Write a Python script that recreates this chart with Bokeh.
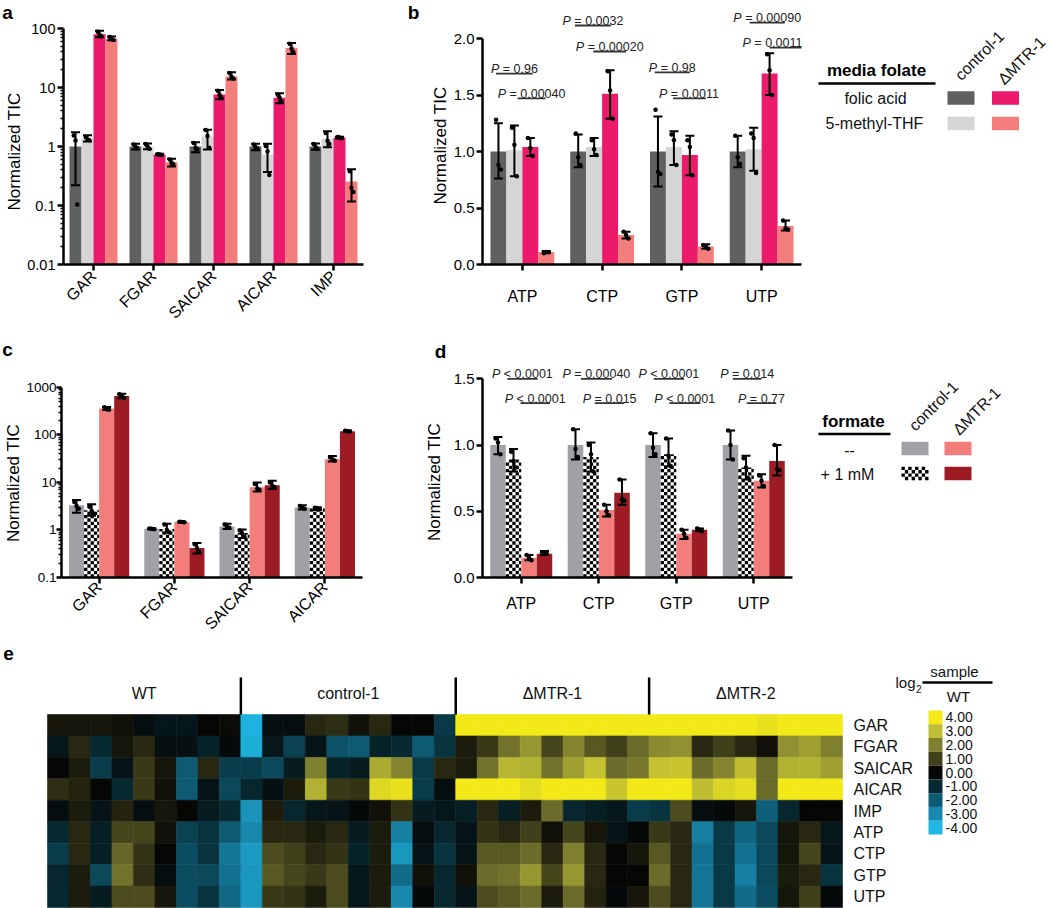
import math
from bokeh.plotting import figure
from bokeh.models import (FactorRange, Range1d, ColumnDataSource, FixedTicker,
                          NumeralTickFormatter, CustomJSTickFormatter, LinearColorMapper)
from bokeh.transform import dodge, transform
from bokeh.layouts import row, column
from bokeh.core.properties import value
from bokeh.embed import file_html
from bokeh.resources import INLINE

FONT = "Liberation Sans"

# ======================= DATA =======================
# ---- panel a (log scale) ----
A_CATS = ["GAR", "FGAR", "SAICAR", "AICAR", "IMP"]
A_CF_MEAN = [1.0, 1.0, 1.0, 1.0, 1.0]
A_CF_LO = [0.22, 0.89, 0.80, 0.86, 0.88]
A_CF_HI = [1.75, 1.11, 1.18, 1.11, 1.12]
A_CF_PTS = [[1.54, 1.26, 0.104], [1.08, 0.98, 0.94], [1.15, 0.95, 0.90], [1.08, 0.97, 0.93], [1.10, 0.98, 0.92]]
A_CM_MEAN = [1.35, 1.0, 1.48, 0.73, 1.35]
A_CM_LO = [1.22, 0.90, 0.89, 0.37, 0.97]
A_CM_HI = [1.55, 1.12, 1.92, 1.11, 1.82]
A_CM_PTS = [[1.45, 1.32, 1.28], [1.10, 1.00, 0.92], [1.90, 1.50, 0.95], [1.02, 0.82, 0.33], [1.70, 1.25, 1.10]]
A_MF_MEAN = [80, 0.73, 7.6, 6.7, 1.42]
A_MF_LO = [71, 0.71, 6.3, 5.4, 1.37]
A_MF_HI = [92, 0.75, 9.1, 8.0, 1.46]
A_MF_PTS = [[88, 78, 74], [0.74, 0.73, 0.72], [8.8, 7.5, 6.8], [7.5, 6.8, 5.9], [1.45, 1.42, 1.38]]
A_MM_MEAN = [67, 0.54, 15.4, 47, 0.255]
A_MM_LO = [63, 0.46, 13.6, 37, 0.117]
A_MM_HI = [73, 0.62, 18.1, 57, 0.41]
A_MM_PTS = [[72, 66, 64], [0.60, 0.53, 0.50], [17.5, 15.0, 14.2], [55, 46, 40], [0.38, 0.20, 0.17]]

# ---- panel b ----
B_CATS = ["ATP", "CTP", "GTP", "UTP"]
B_CF_MEAN = [1.0, 1.0, 1.0, 1.0]
B_CF_LO = [0.76, 0.86, 0.69, 0.86]
B_CF_HI = [1.25, 1.15, 1.31, 1.14]
B_CF_PTS = [[1.28, 0.88, 0.84], [1.16, 0.95, 0.88], [1.37, 0.82, 0.80], [1.14, 0.95, 0.89]]
B_CM_MEAN = [1.01, 1.04, 1.04, 1.02]
B_CM_LO = [0.78, 0.96, 0.88, 0.83]
B_CM_HI = [1.23, 1.12, 1.18, 1.21]
B_CM_PTS = [[1.21, 1.06, 0.78], [1.10, 1.02, 0.97], [1.15, 1.10, 0.88], [1.16, 1.12, 0.81]]
B_MF_MEAN = [1.04, 1.51, 0.97, 1.69]
B_MF_LO = [0.96, 1.29, 0.79, 1.50]
B_MF_HI = [1.12, 1.72, 1.14, 1.87]
B_MF_PTS = [[1.12, 1.03, 0.96], [1.71, 1.54, 1.29], [1.10, 1.04, 0.79], [1.86, 1.72, 1.50]]
B_MM_MEAN = [0.11, 0.26, 0.16, 0.34]
B_MM_LO = [0.10, 0.23, 0.14, 0.30]
B_MM_HI = [0.12, 0.29, 0.18, 0.39]
B_MM_PTS = [[0.10, 0.11, 0.11], [0.29, 0.26, 0.23], [0.17, 0.16, 0.14], [0.39, 0.32, 0.31]]
B_P1_TXT = ["= 0.96", "= 0.0032", "= 0.98", "= 0.00090"]
B_P1_Y = [1.69, 2.115, 1.70, 2.14]
B_P2_TXT = ["= 0.00040", "= 0.00020", "= 0.0011", "= 0.0011"]
B_P2_Y = [1.47, 1.885, 1.47, 1.92]

# ---- panel c (log scale) ----
C_CATS = ["GAR", "FGAR", "SAICAR", "AICAR"]
C_CN_MEAN = [3.3, 1.06, 1.19, 2.97]
C_CN_LO = [2.3, 1.04, 1.05, 2.7]
C_CN_HI = [4.3, 1.09, 1.35, 3.3]
C_CN_PTS = [[3.9, 3.2, 2.8], [1.08, 1.06, 1.04], [1.30, 1.15, 1.12], [3.2, 2.9, 2.8]]
C_CP_MEAN = [2.6, 1.05, 0.86, 2.85]
C_CP_LO = [2.0, 0.88, 0.68, 2.65]
C_CP_HI = [3.5, 1.35, 1.03, 3.0]
C_CP_PTS = [[3.1, 2.5, 2.2], [1.30, 1.00, 0.90], [0.98, 0.85, 0.72], [2.95, 2.85, 2.75]]
C_MN_MEAN = [360, 1.47, 7.9, 31]
C_MN_LO = [335, 1.44, 6.5, 27.5]
C_MN_HI = [390, 1.50, 10.0, 36]
C_MN_PTS = [[385, 350, 340], [1.49, 1.47, 1.45], [9.3, 7.5, 7.0], [34, 30, 29]]
C_MP_MEAN = [660, 0.42, 8.8, 120]
C_MP_LO = [590, 0.32, 7.3, 117]
C_MP_HI = [740, 0.53, 10.9, 124]
C_MP_PTS = [[720, 650, 610], [0.50, 0.42, 0.35], [10.0, 8.5, 8.0], [123, 120, 118]]

# ---- panel d ----
D_CATS = ["ATP", "CTP", "GTP", "UTP"]
D_CN_MEAN = [1.0, 1.0, 1.0, 1.0]
D_CN_LO = [0.93, 0.89, 0.91, 0.89]
D_CN_HI = [1.06, 1.12, 1.09, 1.11]
D_CN_PTS = [[1.05, 1.02, 0.93], [1.12, 0.97, 0.91], [1.09, 0.98, 0.93], [1.11, 1.00, 0.89]]
D_CP_MEAN = [0.89, 0.91, 0.93, 0.83]
D_CP_LO = [0.80, 0.80, 0.84, 0.74]
D_CP_HI = [0.97, 1.02, 1.05, 0.92]
D_CP_PTS = [[0.95, 0.88, 0.83], [1.00, 0.93, 0.80], [1.05, 0.92, 0.84], [0.90, 0.83, 0.75]]
D_MN_MEAN = [0.15, 0.51, 0.33, 0.73]
D_MN_LO = [0.13, 0.46, 0.29, 0.68]
D_MN_HI = [0.17, 0.55, 0.36, 0.78]
D_MN_PTS = [[0.17, 0.15, 0.13], [0.55, 0.50, 0.47], [0.36, 0.33, 0.30], [0.77, 0.73, 0.69]]
D_MP_MEAN = [0.18, 0.64, 0.36, 0.88]
D_MP_LO = [0.17, 0.55, 0.35, 0.77]
D_MP_HI = [0.20, 0.74, 0.37, 1.00]
D_MP_PTS = [[0.19, 0.18, 0.18], [0.74, 0.59, 0.58], [0.37, 0.36, 0.35], [1.00, 0.82, 0.81]]
D_P1_TXT = ["< 0.0001", "= 0.00040", "< 0.0001", "= 0.014"]
D_P1_Y = [1.50, 1.50, 1.50, 1.50]
D_P2_TXT = ["< 0.0001", "= 0.015", "< 0.0001", "= 0.77"]
D_P2_Y = [1.316, 1.316, 1.316, 1.316]

# ---- legends / labels ----
Y_TITLE = "Normalized TIC"
LEG_B_TITLE = "media folate"
LEG_B_ROWS = ["folic acid", "5-methyl-THF"]
LEG_D_TITLE = "formate"
LEG_D_ROWS = ["--", "+ 1 mM"]
LEG_COLS = ["control-1", "ΔMTR-1"]

# ---- panel e heatmap (log2 sample / WT) ----
HM_ROWS = ["GAR", "FGAR", "SAICAR", "AICAR", "IMP", "ATP", "CTP", "GTP", "UTP"]
HM_GROUPS = ["WT", "control-1", "ΔMTR-1", "ΔMTR-2"]
HM_GROUP_SIZES = [9, 10, 9, 9]
HM_GAR = [0.3, 0.3, 0.3, 0.2, -0.2, -0.5, -0.5, 0.0, 0.1,
          -3.9, -0.3, -0.2, 0.6, 0.7, 0.2, 0.6, 0.0, 0.0, -1.3,
          4.5, 4.5, 4.5, 4.5, 4.5, 4.5, 4.5, 4.5, 4.5,
          4.5, 4.5, 4.5, 4.5, 4.5, 3.8, 4.5, 4.5, 4.5]
HM_FGAR = [-0.5, 0.6, -1.0, 0.3, 0.6, -0.3, -0.3, -0.8, -0.1,
           -3.8, -0.5, -1.5, -0.4, -1.8, -2.0, -0.8, -1.0, -2.0, -1.2,
           0.4, 0.9, 1.8, 2.4, 1.1, 2.1, 1.4, 1.0, 1.7,
           2.2, 2.3, 0.6, 1.0, 0.6, 0.2, 2.3, 2.5, 2.0]
HM_SAICAR = [0.0, 0.4, -1.4, -0.4, 0.9, 0.3, -2.0, 0.6, -1.4,
             -1.4, -1.6, -0.6, 2.0, -0.8, -0.6, 2.7, 2.1, -1.3, 0.6,
             0.4, 1.8, 2.9, 2.8, 1.8, 2.5, 3.1, 1.7, 1.9,
             3.1, 3.2, 1.7, 2.1, 3.0, 1.7, 2.8, 2.8, 2.5]
HM_AICAR = [0.7, 0.5, 0.0, -1.0, 0.9, 0.2, -2.0, -0.4, -1.6,
            -0.9, -0.3, 0.4, 2.8, 0.9, 0.8, 3.6, 3.8, -1.4, -0.2,
            4.3, 4.3, 4.3, 3.7, 4.3, 4.0, 4.0, 3.2, 4.3,
            4.3, 4.3, 3.0, 3.5, 3.7, 1.7, 4.3, 4.3, 4.3]
HM_IMP = [-0.2, 0.4, -0.4, 0.5, -0.2, 0.3, 0.0, -0.6, -1.0,
          -3.2, 0.4, -0.9, -0.5, -0.4, -0.1, 0.2, 0.8, -0.6, -0.5,
          -0.7, 0.6, -0.7, 0.4, 1.7, -0.9, -0.7, -0.5, -1.4,
          -1.2, 1.2, -0.2, -0.1, 0.3, -2.1, -0.9, 0.0, 0.0]
HM_ATP = [-1.0, 0.6, -0.7, 1.1, 1.1, 0.2, -1.5, -1.2, -2.0,
          -3.0, 0.6, 0.6, 0.4, 0.6, -0.6, 0.4, -2.8, -0.2, -0.9,
          -0.4, 0.8, 0.6, 1.0, 0.2, 1.1, 0.3, -0.4, -0.1,
          0.9, 0.6, -2.8, -1.3, -2.2, -1.6, 0.3, 0.6, -0.5]
HM_CTP = [-1.4, 0.6, -0.7, 1.6, 0.8, 0.0, -1.7, -1.2, -2.6,
          -3.4, 1.2, 1.0, 0.6, 0.8, -0.8, 0.4, -3.3, -0.4, -1.2,
          -0.4, 1.4, 1.4, 1.7, 0.6, 2.0, 0.6, 0.0, 0.3,
          1.4, 0.6, -2.5, -1.3, -2.5, -1.6, 0.3, 1.1, -0.4]
HM_GTP = [-0.9, 0.4, -1.6, 1.8, 0.7, -0.2, -1.7, -1.6, -2.5,
          -3.3, 1.4, 1.1, 0.9, 1.2, -0.5, 0.4, -2.4, 0.2, -0.9,
          0.2, 1.7, 1.8, 2.4, 1.1, 2.4, 0.6, 0.0, 0.0,
          1.7, 0.6, -2.6, -1.3, -2.8, -1.6, 0.4, 0.6, -1.2]
HM_UTP = [-1.0, 0.4, -0.6, 1.2, 1.2, 0.3, -1.7, -1.2, -2.3,
          -3.3, 0.9, 0.8, 0.4, 1.2, -0.5, 0.4, -3.0, -0.1, -0.9,
          -0.4, 1.2, 1.4, 1.7, 0.4, 1.7, 0.5, -0.1, 0.3,
          1.2, 0.6, -2.6, -1.3, -2.4, -1.7, 0.3, 1.0, -0.1]
HM_VALUES = [HM_GAR, HM_FGAR, HM_SAICAR, HM_AICAR, HM_IMP, HM_ATP, HM_CTP, HM_GTP, HM_UTP]
CB_TICKS = [4, 3, 2, 1, 0, -1, -2, -3, -4]

# ======================= STYLE =======================
C_DARK, C_LIGHT, C_MAG, C_SAL = "#5F6062", "#D5D5D5", "#EB1A6B", "#F37D7B"
C_GREY, C_DRED = "#A0A0A6", "#9D1C24"
BAR_W = 0.2
OFFS = [-0.3, -0.1, 0.1, 0.3]
JIT = [-0.03, 0.0, 0.03]
CHK = 3.3   # checker square size (px)
P_FS = 12.5
B_P1_X = [(-0.33, 0.13), (-0.34, 0.11), (-0.34, 0.10), (-0.15, 0.29)]
B_P2_X = [(-0.06, 0.29), (-0.11, 0.30), (-0.11, 0.30), (0.10, 0.51)]
B_P2_SHIFT = [0, 0, 0, -13]
D_P1_X = [(-0.18, 0.21), (-0.23, 0.17), (-0.29, 0.10), (-0.27, 0.10)]
D_P2_X = [(-0.01, 0.37), (-0.05, 0.33), (-0.09, 0.31), (-0.09, 0.29)]
W_EM = {" ": 0.278, "=": 0.584, "<": 0.584, ".": 0.278, "P": 0.667, "-": 0.333}

# row geometry (height, top border, bottom border)
R1_H, R1_BT, R1_BB = 330, 1, 66
R2_H, R2_BT, R2_BB = 311, 5, 63
HM_TOP = R1_H + R2_H
HM_H = 908 - HM_TOP


def base_fig(w, h, bl, br, bt, bb, **kw):
    p = figure(width=w, height=h, output_backend="svg", toolbar_location=None, title=None,
               min_border_left=bl, min_border_right=br, min_border_top=bt, min_border_bottom=bb,
               background_fill_color="white", border_fill_color="white", **kw)
    p.outline_line_color = None
    p.grid.visible = False
    return p


def style_axes(p, ytick_size="15px", xlab_size="16px", xstand=8, orient=None, ystand=2, ytick_out=6):
    for ax in p.axis:
        ax.axis_line_width = 2.5
        ax.axis_line_color = "black"
        ax.major_tick_line_width = 2.5
        ax.major_tick_line_color = "black"
        ax.major_tick_in = 0
        ax.minor_tick_in = 0
        ax.minor_tick_out = 3
        ax.minor_tick_line_width = 1.5
        ax.minor_tick_line_color = "black"
        ax.major_label_text_font = FONT
        ax.major_label_text_color = "black"
    p.yaxis.major_tick_out = ytick_out
    p.yaxis.major_label_text_font_size = ytick_size
    p.yaxis.major_label_standoff = ystand
    p.xaxis.major_label_text_font_size = xlab_size
    p.xaxis.major_label_standoff = xstand
    p.xaxis.major_tick_out = 6
    if orient is not None:
        p.xaxis.major_label_orientation = orient


def add_checker(p, cats, off, means, v2px, px2v, cat_px):
    """black squares of a checkerboard fill inside the bars (synthetic categorical x)."""
    L, R, B, T = [], [], [], []
    ncols = int(math.ceil(BAR_W * cat_px / CHK))
    for i, m in enumerate(means):
        c0 = i + 0.5 + off - BAR_W / 2
        nrows = int(math.ceil(v2px(m) / CHK))
        for k in range(nrows):
            b, t = px2v(k * CHK), min(px2v((k + 1) * CHK), m)
            for j in range(ncols):
                if (j + k) % 2:
                    continue
                L.append(c0 + j * CHK / cat_px)
                R.append(min(c0 + (j + 1) * CHK / cat_px, c0 + BAR_W))
                B.append(b)
                T.append(t)
    p.quad(left=L, right=R, bottom=B, top=T, fill_color="black", line_color=None)


def add_bars(p, cats, series, bottom, chk=None):
    for s, off in zip(series, OFFS):
        color, hatch, mean, lo, hi, pts = s
        src = ColumnDataSource(dict(cat=cats, mean=mean, lo=lo, hi=hi,
                                    d0=[v[0] for v in pts], d1=[v[1] for v in pts], d2=[v[2] for v in pts]))
        xd = dodge("cat", off, range=p.x_range)
        p.vbar(x=xd, top="mean", bottom=bottom, width=BAR_W, source=src,
               fill_color=color, line_color=None)
        if hatch and chk is not None:
            add_checker(p, cats, off, mean, *chk)
        p.segment(x0=xd, y0="lo", x1=xd, y1="hi", source=src, line_color="black", line_width=2)
        for fld in ("lo", "hi"):
            p.scatter(x=xd, y=fld, marker="dash", size=9, line_width=2, line_color="black", source=src)
        for j, jit in enumerate(JIT):
            p.scatter(x=dodge("cat", off + jit, range=p.x_range), y="d%d" % j, marker="circle", size=4.5,
                      fill_color="black", line_color=None, source=src)


def tw(s, fs):
    return sum(W_EM.get(ch, 0.556) for ch in s) * fs


def add_pvals(p, cats, texts, ys, xoffs, ppu, fs=P_FS, shifts=None):
    for i, (cat, t, yv, (o0, o1)) in enumerate(zip(cats, texts, ys, xoffs)):
        src = ColumnDataSource(dict(cat=[cat], y=[yv], yt=[yv + 4.5 / ppu], pp=["P"], tt=[t]))
        p.segment(x0=dodge("cat", o0, range=p.x_range), y0="y", x1=dodge("cat", o1, range=p.x_range), y1="y",
                  source=src, line_color="#333333", line_width=1.8)
        xm = dodge("cat", (o0 + o1) / 2, range=p.x_range)
        wP = W_EM["P"] * fs
        wS = W_EM[" "] * fs
        W = wP + wS + tw(t, fs)
        sh = shifts[i] if shifts else 0
        common = dict(text_baseline="alphabetic", text_align="left", text_font=value(FONT),
                      text_font_size="%gpx" % fs, text_color="#222222", source=src)
        p.text(x=xm, y="yt", text="pp", x_offset=-W / 2 + sh, text_font_style="italic", **common)
        p.text(x=xm, y="yt", text="tt", x_offset=-W / 2 + wP + wS + sh, **common)


def pixel_fig(w, h, bt, bb):
    # coordinates are figure-relative pixels (y downward); drawable area is the frame [bt, h-bb]
    f = figure(width=w, height=h, x_range=Range1d(0, w), y_range=Range1d(h - bb, bt), output_backend="svg",
               toolbar_location=None, title=None, min_border_left=0, min_border_right=0,
               min_border_top=bt, min_border_bottom=bb, x_axis_location=None, y_axis_location=None,
               background_fill_color="white", border_fill_color="white")
    f.outline_line_color = None
    f.grid.visible = False
    return f


def letter(f, x, y, t):
    f.text(x=[x], y=[y], text=[t], text_font=value(FONT), text_font_style="bold", text_font_size="19px",
           text_align="center", text_baseline="middle", text_color="black")


def ytitle(f, x, y):
    f.text(x=[x], y=[y], text=[Y_TITLE], angle=math.pi / 2, text_font=value(FONT), text_font_size="17px",
           text_align="center", text_baseline="middle", text_color="black")


LOG_FMT = CustomJSTickFormatter(code="return tick.toString();")

# ======================= ROW 1 =======================
la = pixel_fig(24, R1_H, R1_BT, R1_BB)
letter(la, 7, 12, "a")
ytitle(la, 14, 151)

A_FRAME = R1_H - R1_BT - R1_BB
pa = base_fig(376, R1_H, 38, 37, R1_BT, R1_BB, x_range=FactorRange(*A_CATS),
              y_range=Range1d(0.01, 10 ** (-2 + A_FRAME / 59.0)), y_axis_type="log")
pa.yaxis.ticker = FixedTicker(ticks=[0.01, 0.1, 1, 10, 100],
                              minor_ticks=[m * 10.0 ** e for e in range(-2, 2) for m in range(2, 10)])
pa.yaxis.formatter = LOG_FMT
pa.yaxis.bounds = (0.01, 100)
style_axes(pa, ytick_size="14.5px", orient=math.pi / 4, xstand=3)
add_bars(pa, A_CATS, [(C_DARK, False, A_CF_MEAN, A_CF_LO, A_CF_HI, A_CF_PTS),
                      (C_LIGHT, False, A_CM_MEAN, A_CM_LO, A_CM_HI, A_CM_PTS),
                      (C_MAG, False, A_MF_MEAN, A_MF_LO, A_MF_HI, A_MF_PTS),
                      (C_SAL, False, A_MM_MEAN, A_MM_LO, A_MM_HI, A_MM_PTS)], 0.01)

lbb = pixel_fig(50, R1_H, R1_BT, R1_BB)
letter(lbb, 13, 12, "b")
ytitle(lbb, 40, 145)

B_PPU = 113.0
pb = base_fig(360, R1_H, 32, 9, R1_BT, R1_BB, x_range=FactorRange(*B_CATS),
              y_range=Range1d(0, A_FRAME / B_PPU))
pb.yaxis.ticker = FixedTicker(ticks=[0, 0.5, 1.0, 1.5, 2.0])
pb.yaxis.formatter = NumeralTickFormatter(format="0.0")
pb.yaxis.bounds = (0, 2)
style_axes(pb, xstand=17)
add_bars(pb, B_CATS, [(C_DARK, False, B_CF_MEAN, B_CF_LO, B_CF_HI, B_CF_PTS),
                      (C_LIGHT, False, B_CM_MEAN, B_CM_LO, B_CM_HI, B_CM_PTS),
                      (C_MAG, False, B_MF_MEAN, B_MF_LO, B_MF_HI, B_MF_PTS),
                      (C_SAL, False, B_MM_MEAN, B_MM_LO, B_MM_HI, B_MM_PTS)], 0)
add_pvals(pb, B_CATS, B_P1_TXT, B_P1_Y, B_P1_X, B_PPU)
add_pvals(pb, B_CATS, B_P2_TXT, B_P2_Y, B_P2_X, B_PPU, shifts=B_P2_SHIFT)

lb = pixel_fig(240, R1_H, R1_BT, R1_BB)
lb.text(x=[66], y=[70], text=[LEG_B_TITLE], text_font=value(FONT), text_font_style="bold",
        text_font_size="17px", text_align="center", text_baseline="middle")
lb.segment(x0=[8], y0=[83], x1=[125], y1=[83], line_width=2.5, line_color="black")
lb.text(x=[65, 64], y=[98, 123], text=LEG_B_ROWS, text_font=value(FONT), text_font_size="16px",
        text_align="center", text_baseline="middle", text_color="#111111")
lb.rect(x=[150.5, 195, 150.5, 195], y=[97.5, 97.5, 123, 123], width=27, height=13.5,
        fill_color=[C_DARK, C_MAG, C_LIGHT, C_SAL], line_color=None)
lb.text(x=[147, 190], y=[77, 81], text=LEG_COLS, angle=math.pi / 4, text_font=value(FONT),
        text_font_size="16px", text_align="left", text_baseline="alphabetic", text_color="#111111")

# ======================= ROW 2 =======================
C_FRAME = R2_H - R2_BT - R2_BB
lc = pixel_fig(23, R2_H, R2_BT, R2_BB)
letter(lc, 7, 19, "c")
ytitle(lc, 12.5, 153)

C_DEC = 47.7
pc = base_fig(377, R2_H, 36, 38, R2_BT, R2_BB, x_range=FactorRange(*C_CATS),
              y_range=Range1d(0.1, 10 ** (-1 + C_FRAME / C_DEC)), y_axis_type="log")
pc.yaxis.ticker = FixedTicker(ticks=[0.1, 1, 10, 100, 1000],
                              minor_ticks=[m * 10.0 ** e for e in range(-1, 3) for m in range(2, 10)])
pc.yaxis.formatter = LOG_FMT
pc.yaxis.bounds = (0.1, 1000)
style_axes(pc, ytick_size="13.5px", orient=math.pi / 4, xstand=1, ystand=0, ytick_out=5)
add_bars(pc, C_CATS, [(C_GREY, False, C_CN_MEAN, C_CN_LO, C_CN_HI, C_CN_PTS),
                      ("white", True, C_CP_MEAN, C_CP_LO, C_CP_HI, C_CP_PTS),
                      (C_SAL, False, C_MN_MEAN, C_MN_LO, C_MN_HI, C_MN_PTS),
                      (C_DRED, False, C_MP_MEAN, C_MP_LO, C_MP_HI, C_MP_PTS)], 0.1,
         chk=(lambda v: (math.log10(v) + 1) * C_DEC, lambda px: 10 ** (px / C_DEC - 1), 303 / 4.0))

ldd = pixel_fig(50, R2_H, R2_BT, R2_BB)
letter(ldd, 40, 21, "d")
ytitle(ldd, 34, 152)

D_PPU = 133.0
pd_ = base_fig(350, R2_H, 30, 8, R2_BT, R2_BB, x_range=FactorRange(*D_CATS),
               y_range=Range1d(0, C_FRAME / D_PPU))
pd_.yaxis.ticker = FixedTicker(ticks=[0, 0.5, 1.0, 1.5])
pd_.yaxis.formatter = NumeralTickFormatter(format="0.0")
pd_.yaxis.bounds = (0, 1.5)
style_axes(pd_, xstand=11)
add_bars(pd_, D_CATS, [(C_GREY, False, D_CN_MEAN, D_CN_LO, D_CN_HI, D_CN_PTS),
                       ("white", True, D_CP_MEAN, D_CP_LO, D_CP_HI, D_CP_PTS),
                       (C_SAL, False, D_MN_MEAN, D_MN_LO, D_MN_HI, D_MN_PTS),
                       (C_DRED, False, D_MP_MEAN, D_MP_LO, D_MP_HI, D_MP_PTS)], 0,
         chk=(lambda v: v * D_PPU, lambda px: px / D_PPU, 312 / 4.0))
add_pvals(pd_, D_CATS, D_P1_TXT, D_P1_Y, D_P1_X, D_PPU)
add_pvals(pd_, D_CATS, D_P2_TXT, D_P2_Y, D_P2_X, D_PPU)

ld = pixel_fig(250, R2_H, R2_BT, R2_BB)
ld.text(x=[53], y=[91], text=[LEG_D_TITLE], text_font=value(FONT), text_font_style="bold",
        text_font_size="17px", text_align="center", text_baseline="middle")
ld.segment(x0=[18], y0=[104], x1=[90], y1=[104], line_width=2.5, line_color="black")
ld.text(x=[49, 47], y=[120, 145], text=LEG_D_ROWS, text_font=value(FONT), text_font_size="16px",
        text_align="center", text_baseline="middle", text_color="#111111")
ld.rect(x=[114.5, 157.5, 157.5], y=[118.5, 118.5, 143.5], width=27, height=13.5,
        fill_color=[C_GREY, C_SAL, C_DRED], line_color=None)
# checker swatch (8 x 4 squares)
sw_l, sw_t, sq = 101.0, 136.75, 27.0 / 8
ql, qt = [], []
for k in range(4):
    for j in range(8):
        if (j + k) % 2 == 0:
            ql.append(sw_l + j * sq)
            qt.append(sw_t + k * sq)
ld.quad(left=ql, right=[v + sq for v in ql], top=qt, bottom=[v + sq for v in qt],
        fill_color="black", line_color=None)
ld.text(x=[111, 155], y=[98, 102], text=LEG_COLS, angle=math.pi / 4, text_font=value(FONT),
        text_font_size="16px", text_align="left", text_baseline="alphabetic", text_color="#111111")

# ======================= ROW 3 : heatmap =======================
ANCH_V = [-4, -3, -2, -1, 0, 1, 2, 3, 4]
ANCH_C = ["#1FB8E3", "#1888AD", "#0D5A73", "#072A33", "#050505", "#3F3F1A", "#7E7E30", "#BDBD33", "#F4E918"]


def hex2rgb(h):
    return [int(h[i:i + 2], 16) for i in (1, 3, 5)]


def build_palette(n=256):
    out = []
    for k in range(n):
        v = -4 + 8.0 * k / (n - 1)
        i = min(int(v + 4), 7)
        t = v - ANCH_V[i]
        a, b = hex2rgb(ANCH_C[i]), hex2rgb(ANCH_C[i + 1])
        out.append("#%02x%02x%02x" % tuple(int(round(a[j] + (b[j] - a[j]) * t)) for j in range(3)))
    return out


MAPPER = LinearColorMapper(palette=build_palette(), low=-4, high=4)

CW, RH = 795.0 / 37, 193.0 / 9
hm = figure(width=1050, height=HM_H, x_range=Range1d(-47 / CW, (1050 - 47) / CW),
            y_range=Range1d((HM_TOP + HM_H - 714) / RH, (HM_TOP - 714) / RH), output_backend="svg",
            toolbar_location=None, title=None, min_border=0, x_axis_location=None, y_axis_location=None,
            background_fill_color="white", border_fill_color="white")
hm.outline_line_color = None
hm.grid.visible = False


def hx(px):
    return (px - 47) / CW


def hy(py):
    return (py - 714) / RH


ncol = sum(HM_GROUP_SIZES)
cx, cy, cv = [], [], []
for r, vals in enumerate(HM_VALUES):
    for c, v in enumerate(vals):
        cx.append(c + 0.5)
        cy.append(r + 0.5)
        cv.append(v)
hsrc = ColumnDataSource(dict(x=cx, y=cy, v=cv))
hm.rect(x="x", y="y", width=1, height=1, source=hsrc, fill_color=transform("v", MAPPER),
        line_color=transform("v", MAPPER), line_width=0.6)

bounds = [0]
for s in HM_GROUP_SIZES:
    bounds.append(bounds[-1] + s)
gcx = [(bounds[i] + bounds[i + 1]) / 2 for i in range(len(HM_GROUPS))]
hm.text(x=gcx, y=[hy(693)] * len(gcx), text=HM_GROUPS, text_font=value(FONT), text_font_size="16px",
        text_align="center", text_baseline="middle", text_color="#111111")
divx = bounds[1:-1]
hm.segment(x0=divx, y0=[hy(677)] * len(divx), x1=divx, y1=[0] * len(divx), line_color="black",
           line_width=2.5)
hm.text(x=[ncol + 11 / CW] * len(HM_ROWS), y=[i + 0.5 for i in range(len(HM_ROWS))], text=HM_ROWS,
        text_font=value(FONT), text_font_size="16px", text_align="left", text_baseline="middle",
        text_color="#111111")
hm.text(x=[hx(8)], y=[hy(653)], text=["e"], text_font=value(FONT), text_font_style="bold",
        text_font_size="19px", text_align="center", text_baseline="middle")
SW_H = 124.0 / 9
cb_y = [hy(710 + SW_H * (i + 0.5)) for i in range(len(CB_TICKS))]
cbsrc = ColumnDataSource(dict(x=[hx(935)] * len(CB_TICKS), y=cb_y, v=CB_TICKS,
                              t=["%.2f" % t for t in CB_TICKS], xl=[hx(945)] * len(CB_TICKS)))
hm.rect(x="x", y="y", width=14 / CW, height=SW_H / RH, source=cbsrc, fill_color=transform("v", MAPPER),
        line_color=None)
hm.text(x="xl", y="y", text="t", source=cbsrc, text_font=value(FONT), text_font_size="14px",
        text_align="left", text_baseline="middle", text_color="#111111")
hm.text(x=[hx(915)], y=[hy(682)], text=["log"], text_font=value(FONT), text_font_size="15px",
        text_align="right", text_baseline="middle", text_color="#111111")
hm.text(x=[hx(915.5)], y=[hy(688)], text=["2"], text_font=value(FONT), text_font_size="10px",
        text_align="left", text_baseline="middle", text_color="#111111")
hm.segment(x0=[hx(922)], y0=[hy(682)], x1=[hx(992)], y1=[hy(682)], line_color="black", line_width=2.5)
hm.text(x=[hx(954), hx(958)], y=[hy(671), hy(696)], text=["sample", "WT"], text_font=value(FONT),
        text_font_size="15px", text_align="center", text_baseline="middle", text_color="#111111")

layout = column(row(la, pa, lbb, pb, lb), row(lc, pc, ldd, pd_, ld), hm)
open("out.html", "w").write(file_html(layout, INLINE))
